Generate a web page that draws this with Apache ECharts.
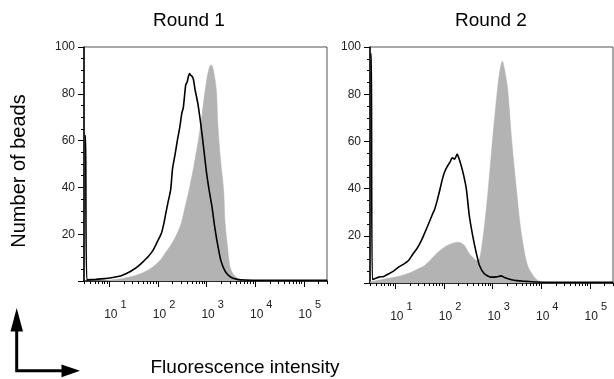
<!DOCTYPE html>
<html><head><meta charset="utf-8">
<script src="https://cdn.jsdelivr.net/npm/echarts@6/dist/echarts.min.js"></script>
<style>html,body{margin:0;padding:0;background:#fff}#c{width:614px;height:379px}</style>
</head><body><div id="c"></div>
<script>
// ---- data (x = log10 fluorescence intensity, y = number of beads) ----
const panelTitles = ['Round 1', 'Round 2'];
const xAxisTitle = 'Fluorescence intensity';
const yAxisTitle = 'Number of beads';
const decadeExponents = [1, 2, 3, 4, 5];
const yTickValues = [0, 20, 40, 60, 80, 100];
const intensityMin = 3, intensityMax = 300000;

const round1Filled = [[0.48,0],[0.9,0.2],[1.13,0.6],[1.3,1.2],[1.48,2],[1.7,3.6],[1.9,6.1],[2.05,9],[2.15,12],[2.245,14.7],[2.35,18.5],[2.45,23],[2.5,26.5],[2.56,31.8],[2.63,38],[2.71,46],[2.77,53],[2.83,60],[2.9,70],[2.97,81.6],[3.02,88],[3.06,91.5],[3.095,92.3],[3.13,91],[3.2,81.6],[3.23,67.4],[3.28,53],[3.35,38.9],[3.38,24.8],[3.43,14.7],[3.48,6.1],[3.56,2.6],[3.69,0.6],[3.85,0],[5.48,0]];
const round1Open = [[0.49,62],[0.51,62],[0.535,0.5],[0.72,0.7],[0.9,1],[1.07,1.5],[1.2,2],[1.28,2.6],[1.38,3.5],[1.48,4.7],[1.6,6.5],[1.69,8.2],[1.8,10.5],[1.9,13.2],[1.98,16.5],[2.07,20.4],[2.12,24.5],[2.16,28.9],[2.21,34],[2.26,38.9],[2.3,48.2],[2.35,54],[2.4,60.3],[2.45,66],[2.49,71.7],[2.52,74],[2.57,83.8],[2.6,85],[2.62,87],[2.65,88.7],[2.67,88],[2.7,87.5],[2.73,86],[2.76,82],[2.8,78],[2.83,74.5],[2.88,67],[2.92,60.3],[2.96,53],[3.0,46],[3.05,39],[3.11,31.8],[3.16,24],[3.21,17.5],[3.25,13],[3.29,9],[3.35,5.5],[3.41,3.3],[3.5,1.6],[3.63,0.7],[3.8,0.4],[4.2,0.3],[5.48,0.3]];
const round2Filled = [[0.48,0.5],[0.7,1.4],[1.0,2.5],[1.15,3.3],[1.33,4.6],[1.47,6],[1.6,7.4],[1.7,9.3],[1.81,11.7],[1.9,13.5],[2.01,15.2],[2.1,16.2],[2.2,17],[2.28,17.3],[2.35,17],[2.42,15.9],[2.52,12.4],[2.62,10.3],[2.68,9.5],[2.73,10.3],[2.78,15.9],[2.84,25.8],[2.91,39.8],[3.0,61],[3.05,72],[3.1,82],[3.15,90],[3.2,94],[3.25,90],[3.31,82],[3.35,72],[3.39,61],[3.44,50],[3.49,39.8],[3.56,25.8],[3.63,15.9],[3.72,7.4],[3.85,2.7],[3.98,0.5],[4.1,0],[5.48,0]];
const round2Open = [[0.487,97],[0.505,97],[0.525,1.5],[0.6,2],[0.66,2.5],[0.76,2.8],[0.86,3.9],[0.96,5],[1.07,6.8],[1.17,8],[1.27,9.5],[1.35,12],[1.44,14.5],[1.51,17],[1.58,20.1],[1.65,23.5],[1.71,26.5],[1.76,29],[1.81,31.4],[1.86,35],[1.91,39.1],[1.96,43.5],[2.01,46.9],[2.07,49.5],[2.12,51.1],[2.17,53],[2.22,52.5],[2.27,54.6],[2.32,52],[2.39,46.9],[2.46,39.8],[2.52,28.6],[2.59,20.1],[2.66,13.1],[2.73,7.4],[2.83,3.9],[2.96,2.5],[3.08,2.6],[3.17,3],[3.26,2.2],[3.37,1.5],[3.5,1],[3.7,0.7],[3.9,0.4],[4.2,0.3],[5.48,0.3]];

// ---- build ----
const FONT = 'Liberation Sans, Arial, Helvetica, sans-serif';
const logMin = Math.log10(intensityMin), logMax = Math.log10(intensityMax);
const minorTickValues = [];
for (let d = 0; d <= 5; d++) for (let k = 2; k <= 9; k++) {
  const v = Math.log10(k * Math.pow(10, d));
  if (v >= logMin - 1e-9 && v <= logMax + 1e-9) minorTickValues.push(v);
}
const grids = [
  { left: 84, top: 47, width: 243, height: 234 },
  { left: 370, top: 47, width: 243, height: 236 }
];
const xAxes = [], yAxes = [], series = [];
const filled = [round1Filled, round2Filled], open = [round1Open, round2Open];
grids.forEach((g, i) => {
  g.show = true; g.borderColor = '#555'; g.borderWidth = 1;
  xAxes.push({
    type: 'value', gridIndex: i, min: logMin, max: logMax, position: 'bottom',
    axisLine: { show: true, onZero: false, lineStyle: { color: '#000', width: 1.5 } },
    axisTick: { show: true, customValues: decadeExponents, length: 6, lineStyle: { color: '#000', width: 1 } },
    axisLabel: {
      show: true, customValues: decadeExponents, margin: 18, color: '#222',
      formatter: v => '{a|10}{b|' + Math.round(v) + '}',
      rich: {
        a: { fontSize: 12, fontFamily: FONT, color: '#222', lineHeight: 22, verticalAlign: 'bottom', padding: [0, 0, 0, 12] },
        b: { fontSize: 11, fontFamily: FONT, color: '#222', lineHeight: 8, verticalAlign: 'top', padding: [0, 0, 0, 3] }
      }
    },
    splitLine: { show: false }
  });
  xAxes.push({
    type: 'value', gridIndex: i, min: logMin, max: logMax, position: 'bottom',
    axisLine: { show: false },
    axisTick: { show: true, customValues: minorTickValues, length: 3, lineStyle: { color: '#000', width: 1 } },
    axisLabel: { show: false },
    splitLine: { show: false }
  });
  yAxes.push({
    type: 'value', gridIndex: i, min: 0, max: 100, interval: 20,
    axisLine: { show: true, lineStyle: { color: '#000', width: 1.5 } },
    axisTick: { show: true, length: 6, lineStyle: { color: '#000' } },
    minorTick: { show: true, splitNumber: 4, length: 3, lineStyle: { color: '#000' } },
    axisLabel: { margin: 9, fontSize: 12, fontFamily: FONT, color: '#222', formatter: v => v === 0 ? '' : String(v) },
    splitLine: { show: false }, minorSplitLine: { show: false }
  });
  series.push({
    type: 'line', xAxisIndex: i * 2, yAxisIndex: i, data: filled[i], showSymbol: false, smooth: 0.3,
    lineStyle: { color: '#b3b3b3', width: 0.5 }, areaStyle: { color: '#b3b3b3', opacity: 1 }, z: 2
  });
  series.push({
    type: 'line', xAxisIndex: i * 2, yAxisIndex: i, data: open[i], showSymbol: false, smooth: 0.2,
    lineStyle: { color: '#000', width: 1.6 }, z: 3
  });
});

const chart = echarts.init(document.getElementById('c'), null, { renderer: 'canvas' });
chart.setOption({
  animation: false,
  backgroundColor: '#fff',
  grid: grids, xAxis: xAxes, yAxis: yAxes, series: series,
  graphic: [
    { type: 'text', x: 189, y: 21, style: { text: panelTitles[0], font: '19px ' + FONT, fill: '#000', align: 'center', verticalAlign: 'middle', textAlign: 'center', textVerticalAlign: 'middle' } },
    { type: 'text', x: 491, y: 21, style: { text: panelTitles[1], font: '19px ' + FONT, fill: '#000', align: 'center', verticalAlign: 'middle', textAlign: 'center', textVerticalAlign: 'middle' } },
    { type: 'text', x: 19.5, y: 171, rotation: Math.PI / 2, style: { text: yAxisTitle, font: '20px ' + FONT, fill: '#000', align: 'center', verticalAlign: 'middle', textAlign: 'center', textVerticalAlign: 'middle' } },
    { type: 'text', x: 245, y: 368, style: { text: xAxisTitle, font: '19px ' + FONT, fill: '#000', align: 'center', verticalAlign: 'middle', textAlign: 'center', textVerticalAlign: 'middle' } },
    { type: 'polyline', shape: { points: [[16.7, 330], [16.7, 370.8], [62, 370.8]] }, style: { stroke: '#000', lineWidth: 3, fill: null } },
    { type: 'polygon', shape: { points: [[10.5, 331.5], [23, 331.5], [16.7, 308]] }, style: { fill: '#000' } },
    { type: 'polygon', shape: { points: [[61.5, 364.6], [61.5, 377.2], [80, 370.8]] }, style: { fill: '#000' } }
  ]
});
</script></body></html>
